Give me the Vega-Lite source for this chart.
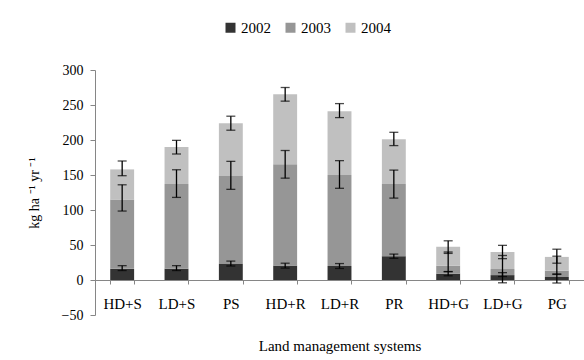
{
  "$schema": "https://vega.github.io/schema/vega-lite/v6.json",
  "width": 489,
  "height": 245,
  "autosize": {"type": "none"},
  "padding": {"left": 95, "top": 70, "right": 0, "bottom": 45},
  "config": {
    "font": "Liberation Serif",
    "view": {"stroke": null},
    "axis": {"labelFont": "Liberation Serif", "titleFont": "Liberation Serif", "labelColor": "#000000", "titleColor": "#000000", "domainColor": "#868686", "tickColor": "#868686", "grid": false, "titleFontWeight": "normal", "labelFontSize": 14, "titleFontSize": 14, "labelOverlap": false},
    "legend": {"labelFont": "Liberation Serif", "labelFontSize": 15, "labelColor": "#000000"}
  },
  "data": {
    "values": [
      {"sys": "HD+S", "year": "2002", "value": 16, "lo": 13.5, "hi": 20.5},
      {"sys": "HD+S", "year": "2003", "value": 99, "lo": 98.5, "hi": 136},
      {"sys": "HD+S", "year": "2004", "value": 43, "lo": 149, "hi": 170},
      {"sys": "LD+S", "year": "2002", "value": 16, "lo": 13.5, "hi": 20.5},
      {"sys": "LD+S", "year": "2003", "value": 121, "lo": 118, "hi": 157.5},
      {"sys": "LD+S", "year": "2004", "value": 53, "lo": 180, "hi": 199.5},
      {"sys": "PS", "year": "2002", "value": 23, "lo": 20, "hi": 27},
      {"sys": "PS", "year": "2003", "value": 125.5, "lo": 129.5, "hi": 169.5},
      {"sys": "PS", "year": "2004", "value": 75.5, "lo": 214, "hi": 234},
      {"sys": "HD+R", "year": "2002", "value": 20.5, "lo": 17, "hi": 24},
      {"sys": "HD+R", "year": "2003", "value": 145, "lo": 145.5, "hi": 185},
      {"sys": "HD+R", "year": "2004", "value": 100, "lo": 255.5, "hi": 275},
      {"sys": "LD+R", "year": "2002", "value": 20, "lo": 16.5, "hi": 23.5},
      {"sys": "LD+R", "year": "2003", "value": 130, "lo": 131, "hi": 170.5},
      {"sys": "LD+R", "year": "2004", "value": 91, "lo": 232, "hi": 252},
      {"sys": "PR", "year": "2002", "value": 34, "lo": 31, "hi": 37},
      {"sys": "PR", "year": "2003", "value": 103, "lo": 117, "hi": 157},
      {"sys": "PR", "year": "2004", "value": 64, "lo": 192, "hi": 211},
      {"sys": "HD+G", "year": "2002", "value": 9, "lo": 6, "hi": 12},
      {"sys": "HD+G", "year": "2003", "value": 11.5, "lo": 12, "hi": 40},
      {"sys": "HD+G", "year": "2004", "value": 27, "lo": 38, "hi": 56},
      {"sys": "LD+G", "year": "2002", "value": 7, "lo": -4, "hi": 10.5},
      {"sys": "LD+G", "year": "2003", "value": 8.7, "lo": 5, "hi": 35},
      {"sys": "LD+G", "year": "2004", "value": 24.3, "lo": 30.5, "hi": 49.5},
      {"sys": "PG", "year": "2002", "value": 4.3, "lo": -4.3, "hi": 8.6},
      {"sys": "PG", "year": "2003", "value": 9, "lo": 8, "hi": 34},
      {"sys": "PG", "year": "2004", "value": 19.7, "lo": 24, "hi": 44}
    ]
  },
  "encoding": {
    "x": {
      "field": "sys", "type": "nominal",
      "sort": ["HD+S", "LD+S", "PS", "HD+R", "LD+R", "PR", "HD+G", "LD+G", "PG"],
      "scale": {"paddingInner": 0.56, "paddingOuter": 0.28},
      "axis": {"title": "Land management systems", "labelAngle": 0, "labelFontSize": 15, "titleFontSize": 15, "offset": -35, "tickBand": "extent", "tickSize": 4, "labelPadding": 12, "titlePadding": 27}
    }
  },
  "layer": [
    {
      "mark": {"type": "bar"},
      "encoding": {
        "y": {
          "field": "value", "type": "quantitative",
          "scale": {"domain": [-50, 300], "nice": false},
          "axis": {"title": "kg ha ⁻¹ yr ⁻¹", "values": [-50, 0, 50, 100, 150, 200, 250, 300], "tickSize": 5, "labelPadding": 7, "titlePadding": 20}
        },
        "color": {
          "field": "year", "type": "nominal",
          "scale": {"domain": ["2002", "2003", "2004"], "range": ["#333333", "#969696", "#c0c0c0"]},
          "legend": {"title": null, "orient": "none", "legendX": 128, "legendY": -50, "direction": "horizontal", "symbolType": "square", "symbolSize": 100, "symbolStrokeWidth": 0, "labelOffset": 3, "columnPadding": 12, "labelFont": "Liberation Serif", "labelFontSize": 15}
        },
        "order": {"field": "year", "type": "ordinal", "sort": "ascending"}
      }
    },
    {
      "mark": {"type": "rule", "color": "#000000", "strokeWidth": 1.3},
      "encoding": {
        "y": {"field": "lo", "type": "quantitative", "axis": {"title": "kg ha ⁻¹ yr ⁻¹", "values": [-50, 0, 50, 100, 150, 200, 250, 300], "tickSize": 5, "labelPadding": 7, "titlePadding": 20}},
        "y2": {"field": "hi"}
      }
    },
    {
      "mark": {"type": "tick", "color": "#000000", "size": 9, "thickness": 1.3},
      "encoding": {"y": {"field": "lo", "type": "quantitative", "axis": {"title": "kg ha ⁻¹ yr ⁻¹", "values": [-50, 0, 50, 100, 150, 200, 250, 300], "tickSize": 5, "labelPadding": 7, "titlePadding": 20}}}
    },
    {
      "mark": {"type": "tick", "color": "#000000", "size": 9, "thickness": 1.3},
      "encoding": {"y": {"field": "hi", "type": "quantitative", "axis": {"title": "kg ha ⁻¹ yr ⁻¹", "values": [-50, 0, 50, 100, 150, 200, 250, 300], "tickSize": 5, "labelPadding": 7, "titlePadding": 20}}}
    }
  ]
}
